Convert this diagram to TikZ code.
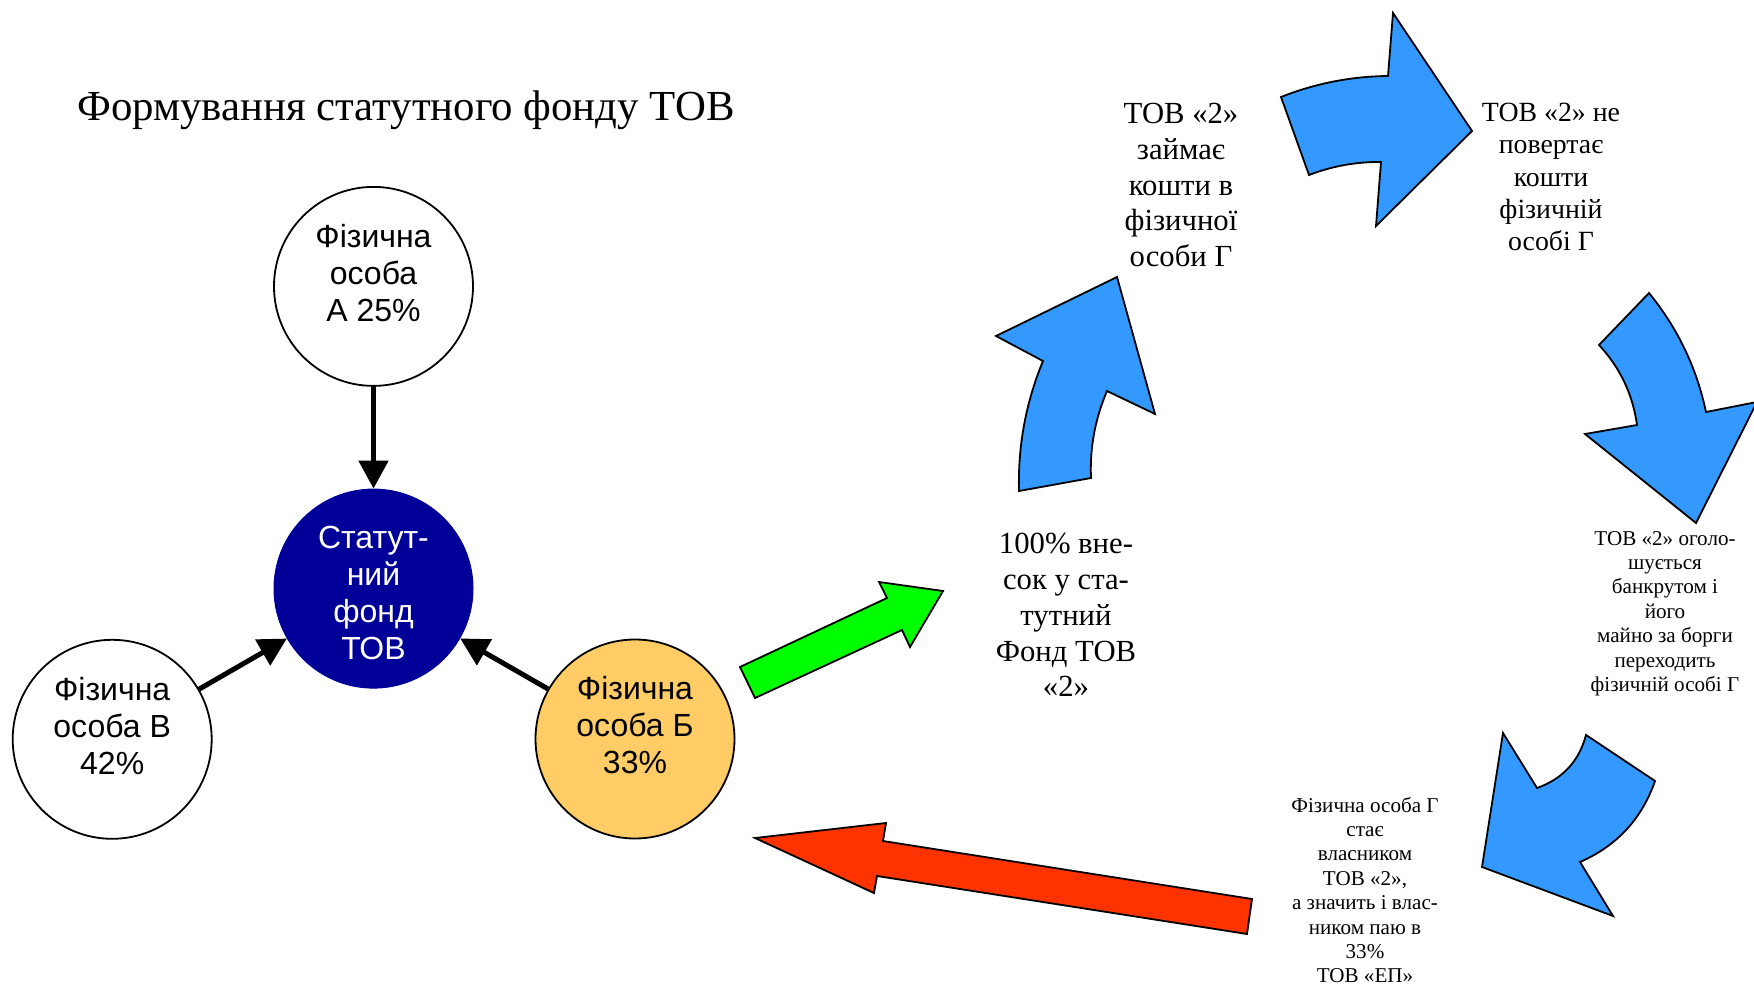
\documentclass[tikz,border=0pt]{standalone}
\usepackage{fontspec}
\setmainfont{Liberation Serif}
\newfontfamily\arialf{Liberation Sans}
\usetikzlibrary{arrows.meta}
\definecolor{navyfill}{RGB}{0,0,153}
\definecolor{orangefill}{RGB}{255,204,102}
\definecolor{bluearrow}{RGB}{51,153,255}
\definecolor{greenarrow}{RGB}{0,255,0}
\definecolor{redarrow}{RGB}{255,51,0}
\begin{document}
\begin{tikzpicture}[x=1pt,y=-1pt,
  person/.style={circle, draw=black, line width=1.8pt, minimum size=199pt, inner sep=0pt, fill=white},
  fund/.style={circle, draw=navyfill, fill=navyfill, line width=1pt, minimum size=199pt, inner sep=0pt},
  ctext/.style={font=\arialf\fontsize{32}{37}\selectfont, align=center, text=black, inner sep=0pt},
  link/.style={line width=5pt, -{Triangle[width=29pt,length=28pt]}},
  blockarrow/.style={draw=black, line width=1.8pt, line join=miter},
  titletext/.style={font=\fontsize{42.8}{50}\selectfont, inner sep=0pt},
  bigtext/.style={align=center, font=\fontsize{30.7}{35.8}\selectfont, inner sep=0pt},
  midtext/.style={align=center, font=\fontsize{27.8}{32.2}\selectfont, inner sep=0pt},
  smalltext/.style={align=center, font=\fontsize{21.1}{24.4}\selectfont, inner sep=0pt}
]
\useasboundingbox (0,0) rectangle (1754,987);
\fill[white] (0,0) rectangle (1754,987);

% title
\node[titletext, anchor=base] (title) at (406,121) {Формування статутного фонду ТОВ};

% circles
\node[person] (A) at (373.5,286.4) {};
\node[fund] (S) at (373.5,588.6) {};
\node[person] (V) at (112.2,739.3) {};
\node[person, fill=orangefill] (B) at (635,739) {};

\node[ctext] (tA) at ([yshift=13.7pt]A.center) {Фізична\\особа\\А 25\%};
\node[ctext, text=white] (tS) at ([yshift=-4.8pt]S.center) {Статут-\\ний\\фонд\\ТОВ};
\node[ctext] (tV) at ([yshift=13.7pt]V.center) {Фізична\\особа В\\42\%};
\node[ctext] (tB) at ([yshift=13.7pt]B.center) {Фізична\\особа Б\\33\%};

\draw[link] (A) -- (S);
\draw[link] (V) -- (S);
\draw[link] (B) -- (S);

% green arrow
\filldraw[blockarrow, fill=greenarrow] (755,698) -- (740,667) -- (887,598) -- (879,582) -- (943,591) -- (910,647) -- (902,630) -- cycle;

% red arrow
\filldraw[blockarrow, fill=redarrow] (755,838) -- (886,823) -- (883,841) -- (1252,899) -- (1247,934) -- (877,876) -- (874,893) -- cycle;

% blue curved arrows
\filldraw[blockarrow, fill=bluearrow] (1019,491) .. controls (1017.8,446) and (1025.8,402.6) .. (1043,361) -- (996,336) -- (1117,277) -- (1155,414) -- (1107,391) .. controls (1095.1,418.8) and (1089.7,447.8) .. (1091,478) -- cycle;

\filldraw[blockarrow, fill=bluearrow] (1281,97) .. controls (1315.4,83.4) and (1351,76.4) .. (1388,76) -- (1393,13) -- (1472,131) -- (1376,226) -- (1381,162) .. controls (1356.2,161.7) and (1332.2,166.1) .. (1309,175) -- cycle;

\filldraw[blockarrow, fill=bluearrow] (1649,293) .. controls (1677.6,328.1) and (1696.6,367.7) .. (1706,412) -- (1757,402) -- (1696,523) -- (1585,434) -- (1637,425) .. controls (1632.7,394.3) and (1620.1,367.7) .. (1599,345) -- cycle;

\filldraw[blockarrow, fill=bluearrow] (1503,733) -- (1537,788) .. controls (1562.6,778.9) and (1579,761.3) .. (1586,735) -- (1655,781) .. controls (1641.8,818.9) and (1616.8,845.9) .. (1580,862) -- (1613,916) -- (1482,867) -- cycle;

% texts
\node[bigtext] (t1) at (1181,185) {ТОВ «2»\\займає\\кошти в\\фізичної\\особи Г};
\node[midtext] (t2) at (1551,177) {ТОВ «2» не\\повертає\\кошти\\фізичній\\особі Г};
\node[bigtext] (t3) at (1066,615) {100\% вне-\\сок у ста-\\тутний\\Фонд ТОВ\\«2»};
\node[smalltext] (t4) at (1665,613.5) {ТОВ «2» оголо-\\шується\\банкрутом і\\його\\майно за борги\\переходить\\фізичній особі Г};
\node[smalltext] (t5) at (1365,890) {Фізична особа Г\\стає\\власником\\ТОВ «2»,\\а значить і влас-\\ником паю в\\33\%\\ТОВ «ЕП»};
\end{tikzpicture}
\end{document}
